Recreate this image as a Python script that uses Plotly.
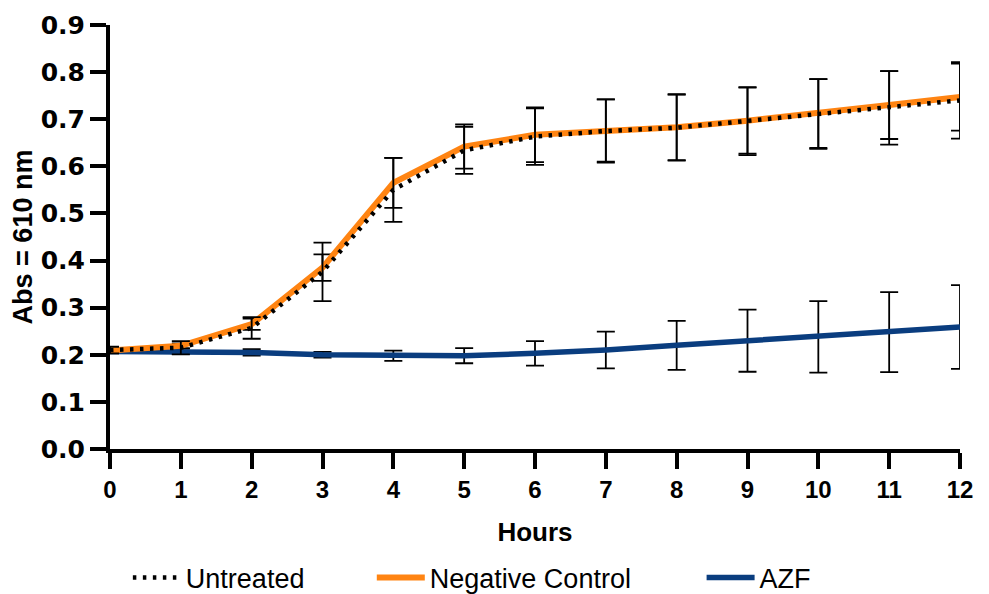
import plotly.graph_objects as go

hours = [0, 1, 2, 3, 4, 5, 6, 7, 8, 9, 10, 11, 12]
untreated = [0.210, 0.215, 0.257, 0.376, 0.550, 0.634, 0.663, 0.675, 0.682, 0.696, 0.711, 0.724, 0.740]
untreated_err = [0.007, 0.014, 0.023, 0.062, 0.068, 0.050, 0.060, 0.067, 0.070, 0.072, 0.074, 0.078, 0.081]
negative = [0.209, 0.219, 0.265, 0.385, 0.565, 0.642, 0.667, 0.676, 0.683, 0.697, 0.712, 0.730, 0.747]
negative_err = [0.003, 0.005, 0.012, 0.028, 0.053, 0.047, 0.058, 0.066, 0.070, 0.070, 0.073, 0.072, 0.071]
azf = [0.207, 0.207, 0.205, 0.200, 0.198, 0.198, 0.203, 0.210, 0.220, 0.230, 0.238, 0.248, 0.259]
azf_err = [0.004, 0.0055, 0.007, 0.006, 0.011, 0.016, 0.026, 0.039, 0.052, 0.066, 0.076, 0.085, 0.089]

y_ticks = [0.0, 0.1, 0.2, 0.3, 0.4, 0.5, 0.6, 0.7, 0.8, 0.9]
y_ticktext = ["0.0", "0.1", "0.2", "0.3", "0.4", "0.5", "0.6", "0.7", "0.8", "0.9"]

ORANGE = "#FF8412"
BLUE = "#0A3D7F"

def eb(arr):
    return dict(type="data", array=arr, visible=True, color="black", thickness=1.8, width=9)

fig = go.Figure()
fig.add_trace(go.Scatter(x=hours, y=azf, name="AZF", mode="lines",
                         line=dict(color=BLUE, width=5.5), error_y=eb(azf_err),
                         cliponaxis=False, legend="legend3", showlegend=True))
fig.add_trace(go.Scatter(x=hours, y=negative, name="Negative Control", mode="lines",
                         line=dict(color=ORANGE, width=6), error_y=eb(negative_err),
                         cliponaxis=False, legend="legend2", showlegend=True))
fig.add_trace(go.Scatter(x=hours, y=untreated, name="Untreated", mode="lines",
                         line=dict(color="black", width=4.5, dash="3.5px,6.5px"), error_y=eb(untreated_err),
                         cliponaxis=False, legend="legend", showlegend=True))

legfont = dict(family="Liberation Sans, Arial, sans-serif", size=27, color="black")
common = dict(orientation="h", yanchor="middle", y=-0.304, xanchor="left", itemwidth=48,
              font=legfont, bgcolor="rgba(0,0,0,0)")
fig.update_layout(
    width=981, height=586,
    showlegend=True,
    margin=dict(l=102, r=29, t=17, b=145, autoexpand=False),
    plot_bgcolor="white", paper_bgcolor="white",
    legend=dict(x=0.021, **common),
    legend2=dict(x=0.308, **common),
    legend3=dict(x=0.696, **common),
    xaxis=dict(range=[0, 12], tickvals=hours, ticks="outside", ticklen=16, tickwidth=4,
               tickcolor="black", showline=True, linewidth=4, linecolor="black",
               showgrid=False, zeroline=False, automargin=False,
               tickfont=dict(family="Liberation Sans, Arial, sans-serif", size=24, color="black", weight="bold"),
               title=dict(text="<b>Hours</b>", standoff=22,
                          font=dict(family="Liberation Sans, Arial, sans-serif", size=26, color="black"))),
    yaxis=dict(range=[0, 0.9], tickvals=y_ticks, ticktext=y_ticktext, ticks="outside", ticklen=16,
               tickwidth=4, tickcolor="black", showline=True, linewidth=4, linecolor="black",
               showgrid=False, zeroline=False, automargin=False,
               tickfont=dict(family="DejaVu Sans, sans-serif", size=25, color="black", weight="bold"),
               title=dict(text="<b>Abs = 610 nm</b>", standoff=6,
                          font=dict(family="Liberation Sans, Arial, sans-serif", size=27, color="black"))),
    shapes=[dict(type="line", xref="paper", yref="paper", x0=0, x1=0, y0=0, y1=-0.04,
                 line=dict(color="black", width=4))],
)

fig.write_html("out.html")
